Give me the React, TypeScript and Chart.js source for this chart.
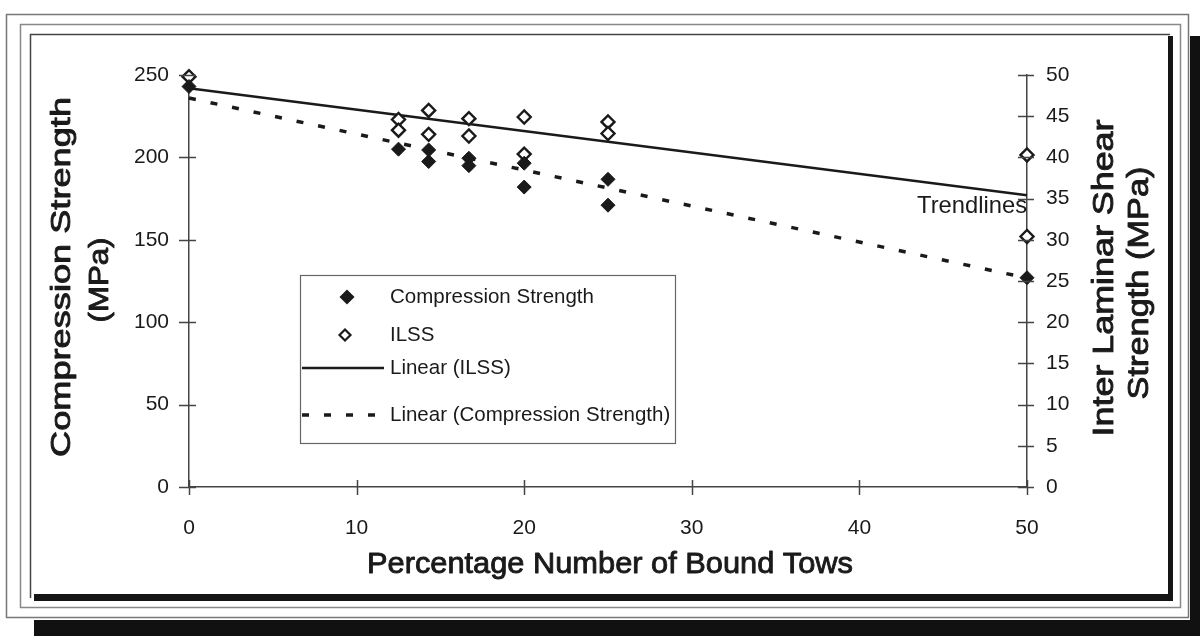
import React, { useEffect, useRef } from "react";
import { Chart, registerables } from "chart.js";

Chart.register(...registerables);

// ---- Data ----
const compX = [0, 12.5, 14.3, 14.3, 16.7, 16.7, 20, 20, 25, 25, 50];
const compY = [243, 205, 204.5, 197.5, 199.5, 195, 196.5, 182, 186.7, 171, 127];
const ilssX = [0, 12.5, 12.5, 14.3, 14.3, 16.7, 16.7, 20, 20, 25, 25, 50, 50];
const ilssY = [49.8, 44.6, 43.3, 45.7, 42.8, 44.7, 42.6, 44.9, 40.4, 44.3, 42.9, 40.3, 30.4];
const trendX = [0, 50];
const ilssTrendY = [48.4, 35.4];
const compTrendY = [236, 126.8];

const seriesNames = ["Compression Strength", "ILSS", "Linear (ILSS)", "Linear (Compression Strength)"];
const xTitle = "Percentage Number of Bound Tows";
const yTitle = ["Compression Strength", "(MPa)"];
const y2Title = ["Inter Laminar Shear", "Strength (MPa)"];
const noteText = "Trendlines";

const FONT = "'Liberation Sans', Arial, Helvetica, sans-serif";
const INK = "#1a1a1a";

function fitText(ctx: CanvasRenderingContext2D, text: string, x: number, y: number, rot: number, len: number, size: number, heavy = 0) {
  ctx.save();
  ctx.translate(x, y);
  ctx.rotate(rot);
  ctx.font = `${size}px ${FONT}`;
  const w = ctx.measureText(text).width;
  ctx.scale(len / w, 1);
  ctx.textAlign = "center";
  ctx.textBaseline = "alphabetic";
  ctx.fillStyle = INK;
  ctx.fillText(text, 0, 0);
  if (heavy > 0) {
    ctx.lineWidth = heavy;
    ctx.strokeStyle = INK;
    ctx.lineJoin = "round";
    ctx.strokeText(text, 0, 0);
  }
  ctx.restore();
}

function diamond(ctx: CanvasRenderingContext2D, cx: number, cy: number, r: number, fill: string) {
  ctx.beginPath();
  ctx.moveTo(cx - r, cy);
  ctx.lineTo(cx, cy - r);
  ctx.lineTo(cx + r, cy);
  ctx.lineTo(cx, cy + r);
  ctx.closePath();
  ctx.fillStyle = fill;
  ctx.fill();
  ctx.lineWidth = 2.2;
  ctx.strokeStyle = INK;
  ctx.stroke();
}

export default function App() {
  const ref = useRef<HTMLCanvasElement>(null);

  useEffect(() => {
    const canvas = ref.current!;

    const framePlugin = {
      id: "frame",
      beforeDraw(chart: any) {
        const ctx = chart.ctx as CanvasRenderingContext2D;
        ctx.save();
        ctx.fillStyle = "#fff";
        ctx.fillRect(0, 0, 1200, 636);
        // drop shadows
        ctx.fillStyle = "#111";
        ctx.fillRect(1190, 36, 10, 600);
        ctx.fillRect(34, 620, 1166, 16);
        // outer frame lines
        ctx.lineWidth = 1.5;
        ctx.strokeStyle = "#777";
        ctx.strokeRect(6.5, 14.5, 1182, 603);
        ctx.strokeStyle = "#888";
        ctx.strokeRect(20.5, 24.5, 1160, 583);
        // inner box
        ctx.strokeStyle = "#444";
        ctx.beginPath();
        ctx.moveTo(30.5, 598);
        ctx.lineTo(30.5, 34.5);
        ctx.lineTo(1170, 34.5);
        ctx.stroke();
        ctx.fillStyle = "#151515";
        ctx.fillRect(1168, 36, 5, 565);
        ctx.fillRect(34, 594, 1139, 7);
        ctx.restore();
      },
    };

    const decoPlugin = {
      id: "deco",
      afterDraw(chart: any) {
        const ctx = chart.ctx as CanvasRenderingContext2D;
        const { x, y, y2 } = chart.scales;
        const a = chart.chartArea;
        ctx.save();
        // crossing tick marks
        ctx.strokeStyle = "#444";
        ctx.lineWidth = 1.5;
        ctx.beginPath();
        y.ticks.forEach((t: any) => {
          const p = Math.round(y.getPixelForValue(t.value)) + 0.5;
          ctx.moveTo(a.left - 10, p);
          ctx.lineTo(a.left + 7, p);
        });
        y2.ticks.forEach((t: any) => {
          const p = Math.round(y2.getPixelForValue(t.value)) + 0.5;
          ctx.moveTo(a.right - 9, p);
          ctx.lineTo(a.right + 7, p);
        });
        x.ticks.forEach((t: any) => {
          const p = Math.round(x.getPixelForValue(t.value)) + 0.5;
          ctx.moveTo(p, a.bottom - 7);
          ctx.lineTo(p, a.bottom + 8);
        });
        ctx.stroke();

        // axis titles
        fitText(ctx, yTitle[0], 70, 277, -Math.PI / 2, 360, 28, 0.9);
        fitText(ctx, yTitle[1], 108, 280, -Math.PI / 2, 85, 28, 0.9);
        fitText(ctx, y2Title[0], 1113, 278, -Math.PI / 2, 317, 30, 0.9);
        fitText(ctx, y2Title[1], 1148, 283, -Math.PI / 2, 233, 30, 0.9);
        fitText(ctx, xTitle, 610, 573, 0, 486, 30, 0.9);
        fitText(ctx, noteText, 972, 213, 0, 110, 24);

        // legend
        const lx = 300.5, ly = 275.5, lw = 375, lh = 168;
        ctx.fillStyle = "#fff";
        ctx.fillRect(lx, ly, lw, lh);
        ctx.strokeStyle = "#666";
        ctx.lineWidth = 1.2;
        ctx.strokeRect(lx, ly, lw, lh);
        diamond(ctx, 347, 297, 6, INK);
        diamond(ctx, 345, 335, 5.5, "#fff");
        ctx.strokeStyle = INK;
        ctx.lineWidth = 2.5;
        ctx.setLineDash([]);
        ctx.beginPath();
        ctx.moveTo(302, 368);
        ctx.lineTo(384, 368);
        ctx.stroke();
        ctx.lineWidth = 3.5;
        ctx.setLineDash([7, 15]);
        ctx.beginPath();
        ctx.moveTo(302, 415);
        ctx.lineTo(386, 415);
        ctx.stroke();
        ctx.setLineDash([]);
        ctx.font = `20.5px ${FONT}`;
        ctx.fillStyle = INK;
        ctx.textAlign = "left";
        ctx.textBaseline = "middle";
        const rows = [297, 335, 368, 415];
        seriesNames.forEach((n, i) => ctx.fillText(n, 390, rows[i]));
        ctx.restore();
      },
    };

    const tickFont = { family: FONT, size: 21 };

    const chart = new Chart(canvas, {
      type: "scatter",
      data: {
        datasets: [
          {
            label: seriesNames[0],
            data: compX.map((v, i) => ({ x: v, y: compY[i] })),
            yAxisID: "y",
            pointStyle: "rectRot",
            pointRadius: 7,
            backgroundColor: INK,
            borderColor: INK,
            borderWidth: 1,
            showLine: false,
            clip: false,
          },
          {
            label: seriesNames[1],
            data: ilssX.map((v, i) => ({ x: v, y: ilssY[i] })),
            yAxisID: "y2",
            pointStyle: "rectRot",
            pointRadius: 6.5,
            backgroundColor: "#fff",
            borderColor: INK,
            borderWidth: 2.4,
            showLine: false,
            clip: false,
          },
          {
            label: seriesNames[2],
            data: trendX.map((v, i) => ({ x: v, y: ilssTrendY[i] })),
            yAxisID: "y2",
            showLine: true,
            pointRadius: 0,
            borderColor: INK,
            borderWidth: 2.5,
            clip: false,
          },
          {
            label: seriesNames[3],
            data: trendX.map((v, i) => ({ x: v, y: compTrendY[i] })),
            yAxisID: "y",
            showLine: true,
            pointRadius: 0,
            borderColor: INK,
            borderWidth: 3.5,
            borderDash: [7, 15],
            clip: false,
          },
        ],
      },
      options: {
        animation: false,
        responsive: false,
        maintainAspectRatio: false,
        layout: { padding: { top: 75, left: 0, right: 0, bottom: 0 } },
        plugins: { legend: { display: false }, tooltip: { enabled: false } },
        scales: {
          x: {
            type: "linear",
            position: "bottom",
            min: 0,
            max: 50,
            ticks: { stepSize: 10, font: tickFont, color: INK, padding: 21 },
            grid: { drawOnChartArea: false, tickLength: 8, tickColor: "rgba(0,0,0,0)" },
            border: { color: "#444", width: 1.5 },
            afterFit: (s: any) => {
              s.height = 149;
            },
          },
          y: {
            type: "linear",
            position: "left",
            min: 0,
            max: 250,
            ticks: { stepSize: 50, font: tickFont, color: INK, padding: 10 },
            grid: { drawOnChartArea: false, tickLength: 10, tickColor: "rgba(0,0,0,0)" },
            border: { color: "#444", width: 1.5 },
            afterFit: (s: any) => {
              s.width = 189;
            },
          },
          y2: {
            type: "linear",
            position: "right",
            min: 0,
            max: 50,
            ticks: { stepSize: 5, font: tickFont, color: INK, padding: 11 },
            grid: { drawOnChartArea: false, tickLength: 8, tickColor: "rgba(0,0,0,0)" },
            border: { color: "#444", width: 1.5 },
            afterFit: (s: any) => {
              s.width = 173;
            },
          },
        },
      },
      plugins: [framePlugin, decoPlugin],
    } as any);

    return () => chart.destroy();
  }, []);

  return (
    <div style={{ position: "absolute", left: 0, top: 0, width: 1200, height: 636 }}>
      <canvas ref={ref} width={1200} height={636} style={{ display: "block", width: 1200, height: 636 }} />
    </div>
  );
}
